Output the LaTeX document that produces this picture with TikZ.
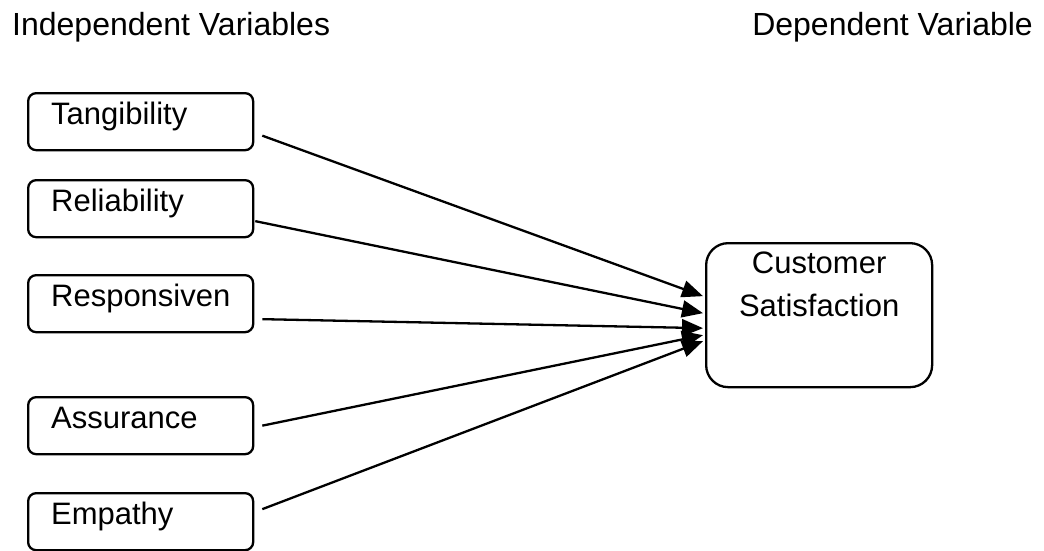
\documentclass[tikz,border=0pt]{standalone}
\usepackage{fontspec}
\setmainfont{Liberation Sans}
\usetikzlibrary{arrows.meta}

\tikzset{
  varbox/.style={draw, line width=2.3pt, rounded corners=8pt, anchor=north west,
    minimum width=225pt, inner xsep=23pt, inner ysep=0pt, text width=179pt,
    align=left, text height=31pt, text depth=26pt,
    font=\fontsize{31}{36}\selectfont},
  link/.style={line width=2.3pt, -{Triangle[length=21pt,width=17pt]}}
}

\begin{document}
\begin{tikzpicture}[x=1pt, y=-1pt]
    \useasboundingbox (0,0) rectangle (1044,550);
    % headings
    \node[anchor=base west, inner sep=0pt, font=\fontsize{32}{36}\selectfont] (indep) at (12,35) {Independent Variables};
    \node[anchor=base east, inner sep=0pt, font=\fontsize{32}{36}\selectfont] (dep) at (1033,35) {Dependent Variable};
    % the five dimensions
    \node[varbox] (tang) at (27,92) {Tangibility};
    \node[varbox] (rel) at (27,179) {Reliability};
    \node[varbox] (resp) at (27,274) {Responsiven};
    \node[varbox] (assur) at (27,396) {Assurance};
    \node[varbox] (emp) at (27,492) {Empathy};
    % outcome
    \node[draw, line width=2.3pt, rounded corners=22pt, anchor=north west,
      minimum width=226pt, inner ysep=0pt, align=center,
      text height=73pt, text depth=71pt,
      font=\fontsize{31}{43}\selectfont] (cs) at (705,242) {Customer\\Satisfaction};
    % arrows into the outcome
    \draw[link] ([shift={(8,14)}]tang.east) -- ([shift={(-2,-19)}]cs.west);
    \draw[link] ([shift={(1,12.5)}]rel.east) -- ([shift={(-2,-2)}]cs.west);
    \draw[link] ([shift={(8,15.5)}]resp.east) -- ([shift={(-2,13)}]cs.west);
    \draw[link] ([shift={(8,0)}]assur.east) -- ([shift={(-2,20)}]cs.west);
    \draw[link] ([shift={(8,-12.5)}]emp.east) -- ([shift={(-2,26)}]cs.west);
\end{tikzpicture}
\end{document}
